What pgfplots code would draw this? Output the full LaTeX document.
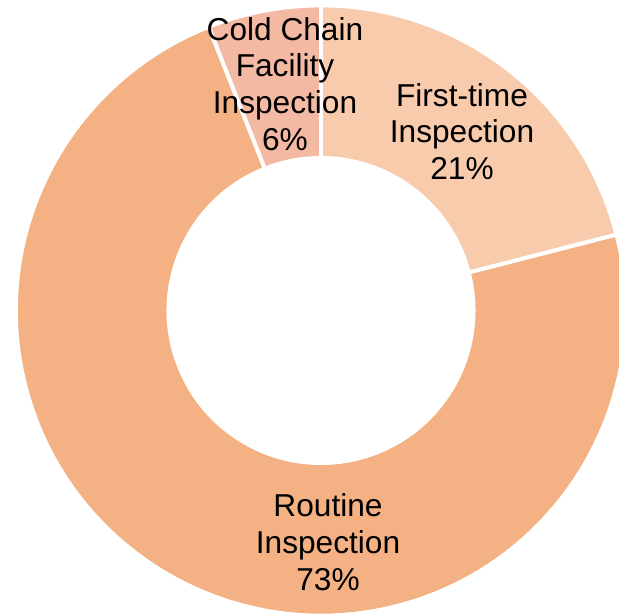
\documentclass[border=0pt]{standalone}
\usepackage{fontspec}
\setmainfont{Liberation Sans}
\usepackage{pgfplots}
\usepackage{pgfplotstable}
\pgfplotsset{compat=1.18}

\definecolor{cFirst}{HTML}{F8CBAD}
\definecolor{cRoutine}{HTML}{F4B183}
\definecolor{cCold}{HTML}{F4B9A3}

% share of inspections, clockwise from 12 o'clock
\pgfplotstableread{
name value color
First 21 cFirst
Routine 73 cRoutine
Cold 6 cCold
}\piedata

\begin{document}
\begin{tikzpicture}
\begin{axis}[
  x=0.025cm, y=0.025cm,
  xmin=0, xmax=619, ymin=0, ymax=614,
  hide axis, clip=true,
]
  \path (axis cs:0,0) rectangle (axis cs:619,614);
  \pgfplotstablegetrowsof{\piedata}
  \pgfmathtruncatemacro\nrows{\pgfplotsretval-1}
  \def\angstart{90}
  \pgfplotsforeachungrouped \i in {0,...,\nrows}{
    \pgfplotstablegetelem{\i}{value}\of\piedata \let\v\pgfplotsretval
    \pgfplotstablegetelem{\i}{color}\of\piedata \let\c\pgfplotsretval
    \pgfmathsetmacro\angend{\angstart-3.6*\v}
    \edef\temp{\noexpand\fill[\c, draw=white, line width=2.8pt, line join=round]
      (axis cs:321,303.5) ++(\angstart:7.625cm)
      arc[start angle=\angstart, end angle=\angend, radius=7.625cm]
      -- ++(\angend+180:3.8125cm)
      arc[start angle=\angend, end angle=\angstart, radius=3.8125cm] -- cycle;}
    \temp
    \global\let\angstart\angend
  }
  \begin{scope}[every node/.style={align=center, font=\fontsize{22.5}{26.2}\selectfont}]
    \node at (axis cs:462,482.5) {First-time\\Inspection\\21\%};
    \node at (axis cs:328,72) {Routine\\Inspection\\73\%};
    \node at (axis cs:285,530) {Cold Chain\\Facility\\Inspection\\6\%};
  \end{scope}
\end{axis}
\end{tikzpicture}
\end{document}
